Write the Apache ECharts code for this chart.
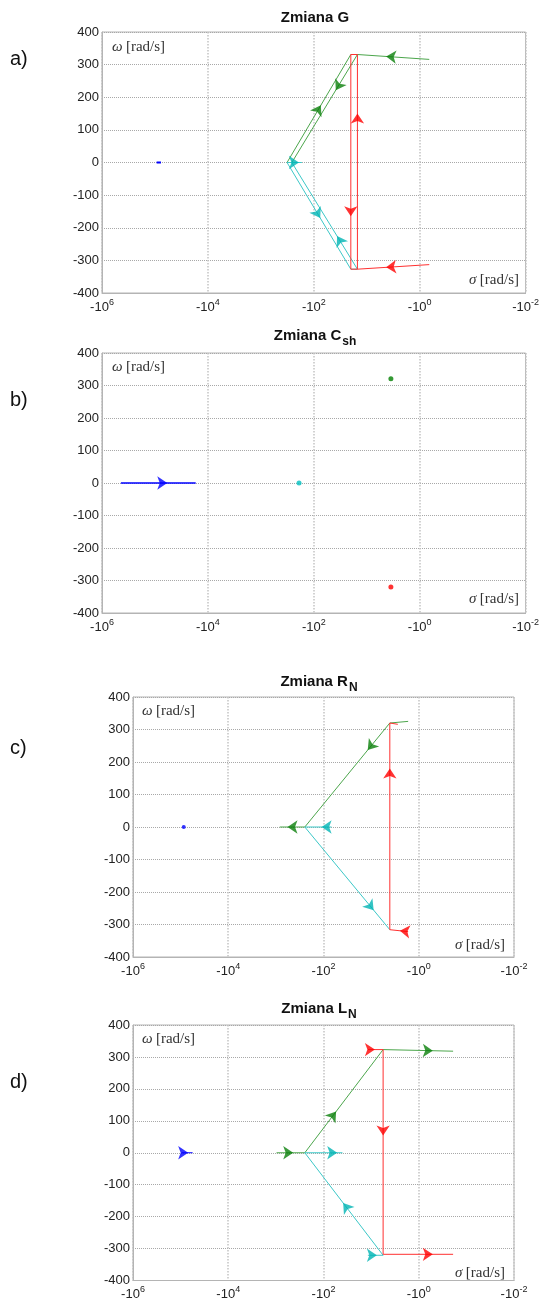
<!DOCTYPE html>
<html><head><meta charset="utf-8">
<script src="https://cdn.jsdelivr.net/npm/echarts@6/dist/echarts.min.js"></script>
<style>html,body{margin:0;padding:0;background:#fff}#c{width:542px;height:1301px}</style>
</head><body><div id="c"></div>
<script>
// ---------------- data (sigma [rad/s], omega [rad/s]) ----------------
const panelTitles = ['Zmiana G', 'Zmiana C', 'Zmiana R', 'Zmiana L'];
const titleSubs = ['', 'sh', 'N', 'N'];
const panelLetters = ['a)', 'b)', 'c)', 'd)'];
const xTickExponents = [6, 4, 2, 0, -2];
const yTicks = [-400, -300, -200, -100, 0, 100, 200, 300, 400];

// Panel a) Zmiana G
const aGreen1 = [[-0.66, 316], [-15, 331], [-260, 0]];
const aGreen2 = [[-320, 0], [-20, 331], [-15, 331]];
const aCyan1 = [[-320, 0], [-20, -327], [-15, -327], [-260, 0]];
const aCyan2 = [[-320, 0], [-168, 0]];
const aRed = [[-0.66, -313], [-15, -327], [-15, 331], [-20, 331], [-20, -327], [-15, -327]];
const aBlue = [[-93000, 0], [-77000, 0]];
// arrows: [segment index, fraction along segment]
const aGreen1Arrows = [[0, 0.6], [1, 0.33]];
const aGreen2Arrows = [[0, 0.53]];
const aCyan1Arrows = [[0, 0.52], [2, 0.31]];
const aCyan2Arrows = [[0, 0.8]];
const aRedArrows = [[0, 0.6], [1, 0.725], [3, 0.754]];

// Panel b) Zmiana Csh
const bBlue = [[-440000, 0], [-17000, 0]];
const bBlueArrows = [[0, 0.62]];
const bGreenPt = [[-3.5, 321]];
const bRedPt = [[-3.5, -320]];
const bCyanPt = [[-190, 0]];

// Panel c) Zmiana RN
const cGreen = [[-1.67, 325], [-4.05, 320], [-247, 0], [-830, 0]];
const cCyan = [[-68, 0], [-247, 0], [-4.05, -316]];
const cRed = [[-1.67, -322], [-4.05, -316], [-4.05, 320], [-2.75, 316]];
const cBluePt = [[-86000, 0]];
const cGreenArrows = [[1, 0.26], [2, 0.69]];
const cCyanArrows = [[0, 0.37], [1, 0.81]];
const cRedArrows = [[0, 0.45], [1, 0.78]];

// Panel d) Zmiana LN
const dGreen = [[-970, 0], [-247, 0], [-5.6, 323], [-0.19, 318]];
const dCyan1 = [[-247, 0], [-40, 0]];
const dCyan2 = [[-11.7, -321], [-5.6, -321], [-247, 0]];
const dRed = [[-11.7, 323], [-5.6, 323], [-5.6, -318], [-0.19, -318]];
const dBlue = [[-96000, 0], [-56000, 0]];
const dGreenArrows = [[0, 0.59], [1, 0.40], [2, 0.71]];
const dCyan1Arrows = [[0, 0.86]];
const dCyan2Arrows = [[0, 0.59], [1, 0.51]];
const dRedArrows = [[0, 0.46], [1, 0.42], [2, 0.71]];
const dBlueArrows = [[0, 0.6]];

// ---------------- styling ----------------
const GREEN = '#4ca64c', GREEN_A = '#0a800a';
const CYAN = '#3cc8c8', CYAN_A = '#00b4b4';
const RED = '#ff3030', RED_A = '#ff0000';
const BLUE = '#0000ff';
const SANS = '"Liberation Sans", Arial, sans-serif';
const SERIF = '"Liberation Serif", "Times New Roman", serif';
const ARROW_SIZE = 10;

const grids = [
  {left: 102, right: 14, top: 32, height: 261},
  {left: 102, right: 14, top: 353, height: 260},
  {left: 133, right: 28, top: 697, height: 260},
  {left: 133, right: 28, top: 1025, height: 260}
].map(g => Object.assign(g, {show: true, borderColor: '#b4b4b4', borderWidth: 1, backgroundColor: 'transparent', containLabel: false}));

const arrowDefs = [];
function pathSeries(idx, data, color, arrows, arrowColor, width) {
  if (arrows && arrows.length) arrowDefs.push({idx, data, arrows, color: arrowColor});
  return {
    type: 'line', xAxisIndex: idx, yAxisIndex: idx,
    data: data.map(d => [-d[0], d[1]]),
    symbol: 'none', showSymbol: false, silent: true, animation: false,
    lineStyle: {color: color, width: width || 1}, itemStyle: {color: color}, z: 3
  };
}
function pointSeries(idx, data, color, size) {
  return {type: 'scatter', xAxisIndex: idx, yAxisIndex: idx, data: data.map(d => [-d[0], d[1]]),
    symbolSize: size || 4, itemStyle: {color: color}, silent: true, animation: false, z: 4};
}

const xAxes = grids.map((g, i) => ({
  type: 'log', logBase: 10, gridIndex: i, min: 0.01, max: 1e6, interval: 2, inverse: true,
  axisLine: {show: true, onZero: false, lineStyle: {color: '#b4b4b4'}},
  axisTick: {show: false},
  splitLine: {show: true, lineStyle: {color: '#c4c4c4', type: 'dotted', width: 1.5}},
  minorSplitLine: {show: false},
  axisLabel: {
    margin: 5,
    formatter: v => '{b|-10}{s|' + Math.round(Math.log10(v)) + '}',
    rich: {b: {fontSize: 13, fontFamily: SANS, color: '#222'},
           s: {fontSize: 9, fontFamily: SANS, color: '#222', padding: [0, 0, 9, 0]}}
  }
}));
const yAxes = grids.map((g, i) => ({
  type: 'value', gridIndex: i, min: yTicks[0], max: yTicks[yTicks.length - 1], interval: 100,
  axisLine: {show: true, onZero: false, lineStyle: {color: '#b4b4b4'}},
  axisTick: {show: false},
  splitLine: {show: true, lineStyle: {color: '#a8a8a8', type: 'dotted', width: 1}},
  axisLabel: {margin: 3, fontSize: 13, fontFamily: SANS, color: '#222'}
}));

const series = [
  pathSeries(0, aGreen1, GREEN, aGreen1Arrows, GREEN_A),
  pathSeries(0, aGreen2, GREEN, aGreen2Arrows, GREEN_A),
  pathSeries(0, aCyan1, CYAN, aCyan1Arrows, CYAN_A),
  pathSeries(0, aCyan2, CYAN, aCyan2Arrows, CYAN_A),
  pathSeries(0, aRed, RED, aRedArrows, RED_A),
  pathSeries(0, aBlue, BLUE, [], BLUE, 2),

  pathSeries(1, bBlue, BLUE, bBlueArrows, BLUE, 1.5),
  pointSeries(1, bGreenPt, '#008000', 5),
  pointSeries(1, bRedPt, '#ff0000', 5),
  pointSeries(1, bCyanPt, '#00bfbf', 5),

  pathSeries(2, cGreen, GREEN, cGreenArrows, GREEN_A),
  pathSeries(2, cCyan, CYAN, cCyanArrows, CYAN_A),
  pathSeries(2, cRed, RED, cRedArrows, RED_A),
  pointSeries(2, cBluePt, BLUE, 4),

  pathSeries(3, dGreen, GREEN, dGreenArrows, GREEN_A),
  pathSeries(3, dCyan1, CYAN, dCyan1Arrows, CYAN_A),
  pathSeries(3, dCyan2, CYAN, dCyan2Arrows, CYAN_A),
  pathSeries(3, dRed, RED, dRedArrows, RED_A),
  pathSeries(3, dBlue, BLUE, dBlueArrows, BLUE)
];

// text annotations
const titlePos = [[315, 18], [315, 336], [319, 682], [319, 1009]];
const letterPos = [[10, 59], [10, 400], [10, 748], [10, 1082]];
const omegaPos = [[112, 47], [112, 367], [142, 711], [142, 1039]];
const sigmaPos = [[519, 280], [519, 599], [505, 945], [505, 1273]];

const graphic = [];
panelTitles.forEach((t, i) => {
  graphic.push({type: 'text', x: titlePos[i][0], y: titlePos[i][1], silent: true,
    style: {text: '{m|' + t + '}' + (titleSubs[i] ? '{s|' + titleSubs[i] + '}' : ''),
      align: 'center', verticalAlign: 'middle',
      rich: {m: {fontSize: 15, fontWeight: 'bold', fontFamily: SANS, fill: '#111'},
             s: {fontSize: 12, fontWeight: 'bold', fontFamily: SANS, fill: '#111', padding: [12, 0, 0, 1]}}}});
  graphic.push({type: 'text', x: letterPos[i][0], y: letterPos[i][1], silent: true,
    style: {text: panelLetters[i], fontSize: 20, fontFamily: SANS, fill: '#111', verticalAlign: 'middle'}});
  graphic.push({type: 'text', x: omegaPos[i][0], y: omegaPos[i][1], silent: true,
    style: {text: '{w|ω} {r|[rad/s]}', verticalAlign: 'middle',
      rich: {w: {fontSize: 15, fontStyle: 'italic', fontFamily: SERIF, fill: '#333'},
             r: {fontSize: 15, fontFamily: SERIF, fill: '#333'}}}});
  graphic.push({type: 'text', x: sigmaPos[i][0], y: sigmaPos[i][1], silent: true,
    style: {text: '{w|σ} {r|[rad/s]}', align: 'right', verticalAlign: 'middle',
      rich: {w: {fontSize: 15, fontStyle: 'italic', fontFamily: SERIF, fill: '#333'},
             r: {fontSize: 15, fontFamily: SERIF, fill: '#333'}}}});
});

const chart = echarts.init(document.getElementById('c'), null, {renderer: 'canvas'});
chart.setOption({
  backgroundColor: '#fff',
  animation: false,
  grid: grids, xAxis: xAxes, yAxis: yAxes, series: series, graphic: graphic
});

// arrowheads: placed along each path, oriented using the library's own pixel mapping
function along(path, seg, t) {
  const p = path[seg], q = path[seg + 1];
  const l1 = Math.log10(-p[0]), l2 = Math.log10(-q[0]);
  return [Math.pow(10, l1 + (l2 - l1) * t), p[1] + (q[1] - p[1]) * t];
}
const arrowSeries = arrowDefs.map(def => ({
  type: 'scatter', xAxisIndex: def.idx, yAxisIndex: def.idx, silent: true, animation: false, z: 5,
  symbol: 'arrow', symbolSize: ARROW_SIZE, itemStyle: {color: def.color},
  data: def.arrows.map(a => {
    const tip = along(def.data, a[0], a[1]);
    const tail = along(def.data, a[0], Math.max(0, a[1] - 0.1));
    const pt = chart.convertToPixel({gridIndex: def.idx}, tip);
    const pb = chart.convertToPixel({gridIndex: def.idx}, tail);
    const rot = Math.atan2(-(pt[1] - pb[1]), pt[0] - pb[0]) * 180 / Math.PI - 90;
    return {value: tip, symbolRotate: rot};
  })
}));
chart.setOption({series: series.concat(arrowSeries)});
</script></body></html>
